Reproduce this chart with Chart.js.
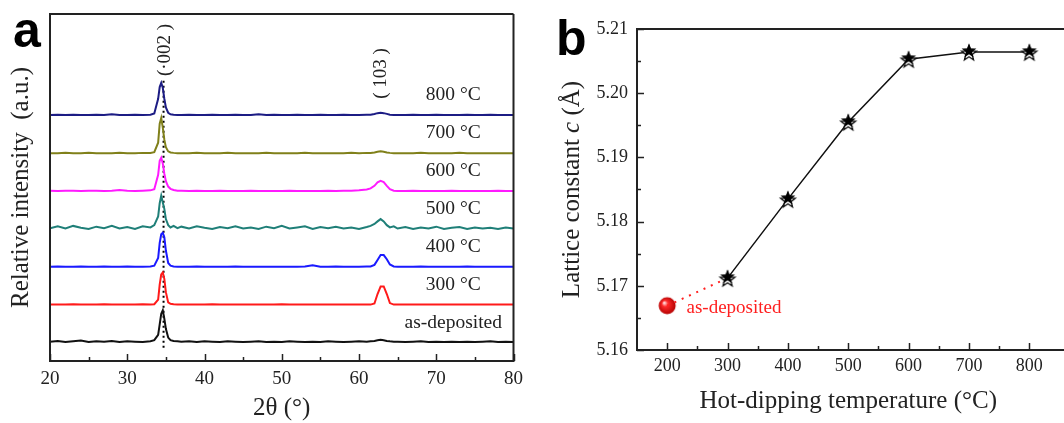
<!DOCTYPE html>
<html lang="en">

<head>
    <meta charset="UTF-8">
    <script src="https://cdn.jsdelivr.net/npm/chart.js"></script>
    <title>ZnO XRD and lattice constant</title>
    <style>
        body { margin: 0; background: #fff; overflow: hidden; }
        .wrap { position: relative; width: 1064px; height: 423px; overflow: hidden; }
        canvas { position: absolute; top: 0; }
        .tag { position: absolute; font: bold 50px "Liberation Sans"; line-height: 50px; color: #000; }
    </style>
</head>

<body>
    <div class="wrap">
        <canvas id="chartA" width="530" height="423" style="left:0"></canvas>
        <canvas id="chartB" width="540" height="423" style="left:530px"></canvas>
        <div class="tag" style="left:13px; top:5px;">a</div>
        <div class="tag" style="left:556px; top:13px;">b</div>
    </div>

    <script>
        const serif = '"Liberation Serif", "Times New Roman", serif';
        const ink = '#222';

        // ---- panel a : XRD patterns ----
        const twoTheta = [20, 21, 22, 23, 24, 25, 26, 27, 28, 29, 30, 31, 32, 33,
            33.5, 34, 34.2, 34.4, 34.6, 34.8, 35, 35.3, 35.6, 36, 36.5,
            37, 38, 39, 40, 41, 42, 43, 44, 45, 46, 47, 48, 49, 50, 51, 52, 53, 54, 55, 56, 57, 58, 59, 60, 61,
            61.5, 62, 62.4, 62.8, 63.2, 63.6, 64, 64.5,
            65, 66, 67, 68, 69, 70, 71, 72, 73, 74, 75, 76, 77, 78, 79, 80];

        const intAsDep = [0.04, 0.06, 0.03, 0.05, 0.07, 0.03, 0.05, 0.04, 0.06, 0.03, 0.05, 0.04, 0.03, 0.05,
            0.08, 0.22, 0.5, 0.78, 0.87, 0.65, 0.38, 0.15, 0.08, 0.06, 0.05,
            0.04, 0.05, 0.03, 0.05, 0.04, 0.03, 0.05, 0.04, 0.03, 0.04, 0.05, 0.03, 0.04, 0.03, 0.05, 0.04, 0.03, 0.04, 0.03, 0.05, 0.04, 0.03, 0.04, 0.05, 0.04,
            0.05, 0.06, 0.08, 0.09, 0.08, 0.06, 0.05, 0.04,
            0.04, 0.03, 0.04, 0.05, 0.03, 0.04, 0.03, 0.04, 0.03, 0.04, 0.03, 0.04, 0.05, 0.03, 0.04, 0.03];
        const int300 = [0.02, 0.02, 0.02, 0.03, 0.02, 0.02, 0.02, 0.03, 0.02, 0.02, 0.02, 0.02, 0.03, 0.02,
            0.03, 0.15, 0.55, 0.82, 0.87, 0.7, 0.35, 0.08, 0.04, 0.03, 0.02,
            0.02, 0.02, 0.02, 0.02, 0.03, 0.02, 0.02, 0.02, 0.02, 0.02, 0.02, 0.02, 0.02, 0.03, 0.02, 0.02, 0.02, 0.02, 0.02, 0.02, 0.02, 0.02, 0.02, 0.02, 0.02,
            0.02, 0.05, 0.3, 0.5, 0.5, 0.3, 0.06, 0.02,
            0.02, 0.02, 0.02, 0.02, 0.02, 0.02, 0.02, 0.02, 0.02, 0.02, 0.02, 0.02, 0.02, 0.02, 0.02, 0.02];
        const int400 = [0.02, 0.03, 0.02, 0.02, 0.03, 0.02, 0.02, 0.03, 0.02, 0.02, 0.03, 0.02, 0.02, 0.03,
            0.05, 0.25, 0.65, 0.88, 0.92, 0.8, 0.45, 0.12, 0.05, 0.03, 0.02,
            0.02, 0.02, 0.03, 0.02, 0.02, 0.02, 0.02, 0.03, 0.02, 0.02, 0.02, 0.02, 0.02, 0.02, 0.02, 0.02, 0.03, 0.06, 0.02, 0.02, 0.03, 0.02, 0.02, 0.02, 0.03,
            0.03, 0.07, 0.2, 0.33, 0.33, 0.22, 0.08, 0.03,
            0.02, 0.02, 0.02, 0.03, 0.02, 0.02, 0.02, 0.02, 0.02, 0.03, 0.02, 0.02, 0.02, 0.02, 0.02, 0.02];
        const int500 = [0.04, 0.09, 0.03, 0.1, 0.05, 0.02, 0.08, 0.04, 0.1, 0.03, 0.07, 0.02, 0.09, 0.06,
            0.12, 0.35, 0.7, 0.9, 0.72, 0.55, 0.28, 0.12, 0.06, 0.1, 0.04,
            0.08, 0.03, 0.09, 0.05, 0.02, 0.07, 0.04, 0.09, 0.03, 0.06, 0.02, 0.08, 0.04, 0.1, 0.03, 0.06, 0.09, 0.02, 0.07, 0.04, 0.08, 0.03, 0.06, 0.02, 0.07,
            0.1, 0.15, 0.22, 0.28, 0.22, 0.12, 0.06, 0.09,
            0.03, 0.07, 0.02, 0.06, 0.03, 0.08, 0.02, 0.05, 0.07, 0.02, 0.06, 0.03, 0.05, 0.02, 0.06, 0.03];
        const int600 = [0.03, 0.02, 0.03, 0.03, 0.02, 0.03, 0.03, 0.02, 0.03, 0.05, 0.03, 0.02, 0.03, 0.04,
            0.07, 0.45, 0.82, 0.9, 0.75, 0.48, 0.28, 0.14, 0.08, 0.05, 0.03,
            0.03, 0.02, 0.03, 0.02, 0.02, 0.03, 0.02, 0.02, 0.02, 0.03, 0.02, 0.02, 0.02, 0.02, 0.03, 0.02, 0.02, 0.02, 0.02, 0.03, 0.02, 0.03, 0.03, 0.04, 0.06,
            0.09, 0.16, 0.25, 0.29, 0.26, 0.16, 0.07, 0.03,
            0.02, 0.02, 0.03, 0.02, 0.02, 0.02, 0.02, 0.03, 0.02, 0.02, 0.02, 0.02, 0.02, 0.03, 0.02, 0.02];
        const int700 = [0.02, 0.02, 0.03, 0.02, 0.02, 0.03, 0.02, 0.02, 0.02, 0.03, 0.02, 0.02, 0.03, 0.03,
            0.05, 0.3, 0.8, 0.95, 0.7, 0.38, 0.18, 0.07, 0.04, 0.03, 0.02,
            0.02, 0.02, 0.03, 0.02, 0.02, 0.02, 0.03, 0.02, 0.02, 0.02, 0.02, 0.03, 0.02, 0.02, 0.02, 0.02, 0.03, 0.02, 0.02, 0.02, 0.02, 0.02, 0.03, 0.02, 0.03,
            0.03, 0.04, 0.06, 0.07, 0.06, 0.04, 0.03, 0.02,
            0.02, 0.02, 0.02, 0.03, 0.02, 0.02, 0.02, 0.02, 0.03, 0.02, 0.02, 0.02, 0.02, 0.02, 0.02, 0.02];
        const int800 = [0.02, 0.03, 0.02, 0.03, 0.02, 0.02, 0.03, 0.02, 0.04, 0.02, 0.02, 0.03, 0.02, 0.03,
            0.06, 0.45, 0.76, 0.87, 0.74, 0.45, 0.22, 0.08, 0.04, 0.03, 0.02,
            0.02, 0.03, 0.02, 0.02, 0.03, 0.02, 0.02, 0.03, 0.02, 0.02, 0.04, 0.02, 0.03, 0.02, 0.02, 0.03, 0.02, 0.02, 0.03, 0.02, 0.02, 0.03, 0.02, 0.02, 0.03,
            0.03, 0.05, 0.07, 0.08, 0.07, 0.05, 0.03, 0.02,
            0.02, 0.02, 0.03, 0.02, 0.02, 0.03, 0.02, 0.02, 0.02, 0.03, 0.02, 0.02, 0.03, 0.02, 0.02, 0.02];

        const sampleLabels = ['as-deposited', '300 °C', '400 °C', '500 °C', '600 °C', '700 °C', '800 °C'];
        const sampleData = [intAsDep, int300, int400, int500, int600, int700, int800];
        const sampleColors = ['#111111', '#ff1a1a', '#1a1aff', '#1f7f78', '#ff1aff', '#80801a', '#1c1c84'];
        const stackOffsets = [0.47, 1.47, 2.47, 3.47, 4.47, 5.47, 6.48];
        const thetaTicks = [20, 30, 40, 50, 60, 70, 80];
        const peak002 = 34.7;

        // inward tick marks + frame, drawn from the scales
        const frameTicks = {
            id: 'frameTicks',
            afterDraw(chart, args, opts) {
                const ctx = chart.ctx;
                const a = chart.chartArea;
                const r = a.right + (opts.openRight ? 10 : 0);
                ctx.save();
                ctx.strokeStyle = ink;
                ctx.lineWidth = 2;
                ctx.beginPath();
                ctx.moveTo(r, a.top);
                ctx.lineTo(a.left, a.top);
                ctx.lineTo(a.left, a.bottom);
                ctx.lineTo(r, a.bottom);
                if (!opts.openRight) ctx.lineTo(a.right, a.top);
                ctx.stroke();
                ctx.lineWidth = 1.5;
                ctx.beginPath();
                for (const id of opts.axes) {
                    const s = chart.scales[id];
                    const vals = s.ticks.map(t => t.value);
                    const marks = [];
                    vals.forEach((v, i) => {
                        marks.push([v, 7]);
                        if (i < vals.length - 1) marks.push([(v + vals[i + 1]) / 2, 4]);
                    });
                    for (const [v, len] of marks) {
                        const p = Math.round(s.getPixelForValue(v)) + 0.5;
                        if (s.isHorizontal()) {
                            ctx.moveTo(p, a.bottom);
                            ctx.lineTo(p, a.bottom - len);
                        } else {
                            ctx.moveTo(a.left, p);
                            ctx.lineTo(a.left + len, p);
                        }
                    }
                }
                ctx.stroke();
                ctx.restore();
            }
        };

        const xrdLabels = {
            id: 'xrdLabels',
            afterDatasetsDraw(chart) {
                const ctx = chart.ctx;
                const x = chart.scales.x;
                const y = chart.scales.y;
                ctx.save();
                ctx.fillStyle = ink;
                ctx.font = '19.5px ' + serif;
                ctx.textAlign = 'center';
                ctx.textBaseline = 'middle';
                sampleLabels.forEach((txt, i) => {
                    ctx.fillText(txt, x.getPixelForValue(72.2), y.getPixelForValue(stackOffsets[i] + 0.55));
                });
                // rotated peak indices
                ctx.font = '19px ' + serif;
                [['(·002 )', 34.95, 8.22], ['( 103 )', 62.9, 7.6]].forEach(([txt, t, v]) => {
                    ctx.save();
                    ctx.translate(x.getPixelForValue(t), y.getPixelForValue(v));
                    ctx.rotate(-Math.PI / 2);
                    ctx.fillText(txt, 0, 0);
                    ctx.restore();
                });
                ctx.restore();
            }
        };

        const xrdSets = sampleData.map((vals, i) => ({
            label: sampleLabels[i],
            data: twoTheta.map((t, k) => ({ x: t, y: vals[k] + stackOffsets[i] })),
            borderColor: sampleColors[i],
            borderWidth: 2,
            pointRadius: 0,
            tension: 0
        }));
        xrdSets.push({
            label: 'guide',
            data: [{ x: peak002, y: 0.35 }, { x: peak002, y: 7.43 }],
            borderColor: '#000',
            borderWidth: 2,
            borderDash: [2, 3],
            pointRadius: 0
        });

        new Chart(document.getElementById('chartA'), {
            type: 'line',
            data: { datasets: xrdSets },
            options: {
                responsive: false,
                animation: false,
                layout: { padding: { top: 14, right: 12, left: 0, bottom: 0 } },
                plugins: {
                    legend: { display: false },
                    tooltip: { enabled: false },
                    frameTicks: { axes: ['x'] }
                },
                scales: {
                    x: {
                        type: 'linear', min: 20, max: 80,
                        afterBuildTicks: s => { s.ticks = thetaTicks.map(v => ({ value: v })); },
                        ticks: { font: { family: serif, size: 19 }, color: ink, padding: 7 },
                        grid: { display: false, drawTicks: false },
                        border: { display: false },
                        title: { display: true, text: '2θ (°)', font: { family: serif, size: 25 }, color: ink, padding: { top: 0, bottom: 0 } },
                        afterFit: s => { s.height = 62; }
                    },
                    y: {
                        min: 0, max: 9.17,
                        ticks: { display: false },
                        grid: { display: false, drawTicks: false },
                        border: { display: false },
                        title: { display: true, text: 'Relative intensity  (a.u.)', font: { family: serif, size: 25 }, color: ink, padding: { top: 6, bottom: 0 } },
                        afterFit: s => { s.width = 50; }
                    }
                }
            },
            plugins: [frameTicks, xrdLabels]
        });

        // ---- panel b : lattice constant ----
        const tempC = [300, 400, 500, 600, 700, 800];
        const latticeC = [5.1712, 5.1835, 5.1955, 5.2053, 5.2064, 5.2064];
        const asDepTemp = [200];
        const asDepC = [5.1669];
        const tempTicks = [200, 300, 400, 500, 600, 700, 800];
        const latticeTicks = [5.16, 5.17, 5.18, 5.19, 5.20, 5.21];

        function starMarker() {
            const c = document.createElement('canvas');
            c.width = 20; c.height = 22;
            const g = c.getContext('2d');
            function star(cx, cy, R, r) {
                g.beginPath();
                for (let k = 0; k < 10; k++) {
                    const ang = -Math.PI / 2 + k * Math.PI / 5;
                    const rr = k % 2 ? r : R;
                    g.lineTo(cx + rr * Math.cos(ang), cy + rr * Math.sin(ang));
                }
                g.closePath();
            }
            star(10, 12.5, 7.8, 3.3);
            g.fillStyle = '#fff';
            g.fill();
            g.lineWidth = 1.3;
            g.strokeStyle = '#111';
            g.stroke();
            star(10, 10, 7.8, 3.3);
            g.fillStyle = '#000';
            g.fill();
            return c;
        }

        function sphereMarker() {
            const c = document.createElement('canvas');
            c.width = 20; c.height = 20;
            const g = c.getContext('2d');
            const grad = g.createRadialGradient(7, 7, 0.5, 10, 10, 9);
            grad.addColorStop(0, '#ffe0e0');
            grad.addColorStop(0.3, '#ff2a2a');
            grad.addColorStop(1, '#b00000');
            g.fillStyle = grad;
            g.beginPath();
            g.arc(10, 10, 8.5, 0, Math.PI * 2);
            g.fill();
            return c;
        }

        const latticeText = {
            id: 'latticeText',
            afterDatasetsDraw(chart) {
                const ctx = chart.ctx;
                const x = chart.scales.x;
                const y = chart.scales.y;
                ctx.save();
                ctx.fillStyle = '#ff2020';
                ctx.font = '19px ' + serif;
                ctx.textAlign = 'left';
                ctx.textBaseline = 'middle';
                ctx.fillText('as-deposited', x.getPixelForValue(232), y.getPixelForValue(5.1665));

                // y title with italic c
                const parts = [['Lattice constant ', ''], ['c', 'italic '], [' (Å)', '']];
                ctx.fillStyle = ink;
                let total = 0;
                for (const [t, st] of parts) { ctx.font = st + '25px ' + serif; total += ctx.measureText(t).width; }
                ctx.translate(y.left + 42, (chart.chartArea.top + chart.chartArea.bottom) / 2);
                ctx.rotate(-Math.PI / 2);
                let px = -total / 2;
                for (const [t, st] of parts) {
                    ctx.font = st + '25px ' + serif;
                    ctx.fillText(t, px, 0);
                    px += ctx.measureText(t).width;
                }
                ctx.restore();
            }
        };

        new Chart(document.getElementById('chartB'), {
            type: 'line',
            data: {
                datasets: [{
                    label: 'hot-dipped',
                    data: tempC.map((t, i) => ({ x: t, y: latticeC[i] })),
                    borderColor: '#111',
                    borderWidth: 1.5,
                    pointStyle: starMarker(),
                    pointRadius: 9
                }, {
                    label: 'link',
                    data: [{ x: asDepTemp[0], y: asDepC[0] }, { x: tempC[0], y: latticeC[0] }],
                    borderColor: '#ff2020',
                    borderWidth: 2,
                    borderDash: [2, 6],
                    pointRadius: 0
                }, {
                    label: 'as-deposited',
                    data: asDepTemp.map((t, i) => ({ x: t, y: asDepC[i] })),
                    showLine: false,
                    pointStyle: sphereMarker(),
                    pointRadius: 9
                }]
            },
            options: {
                responsive: false,
                animation: false,
                layout: { padding: { top: 29, right: 6, left: 0, bottom: 0 } },
                plugins: {
                    legend: { display: false },
                    tooltip: { enabled: false },
                    frameTicks: { axes: ['x', 'y'], openRight: true }
                },
                scales: {
                    x: {
                        type: 'linear', min: 150, max: 850,
                        afterBuildTicks: s => { s.ticks = tempTicks.map(v => ({ value: v })); },
                        ticks: { font: { family: serif, size: 18 }, color: ink, padding: 5 },
                        grid: { display: false, drawTicks: false },
                        border: { display: false },
                        title: { display: true, text: 'Hot-dipping temperature (°C)', font: { family: serif, size: 25 }, color: ink, padding: { top: 0, bottom: 7 } },
                        afterFit: s => { s.height = 73; }
                    },
                    y: {
                        min: 5.16, max: 5.21,
                        afterBuildTicks: s => { s.ticks = latticeTicks.map(v => ({ value: v })); },
                        ticks: { font: { family: serif, size: 18 }, color: ink, padding: 9, callback: v => v.toFixed(2) },
                        grid: { display: false, drawTicks: false },
                        border: { display: false },
                        title: { display: false },
                        afterFit: s => { s.width = 107; }
                    }
                }
            },
            plugins: [frameTicks, latticeText]
        });
    </script>
</body>

</html>
